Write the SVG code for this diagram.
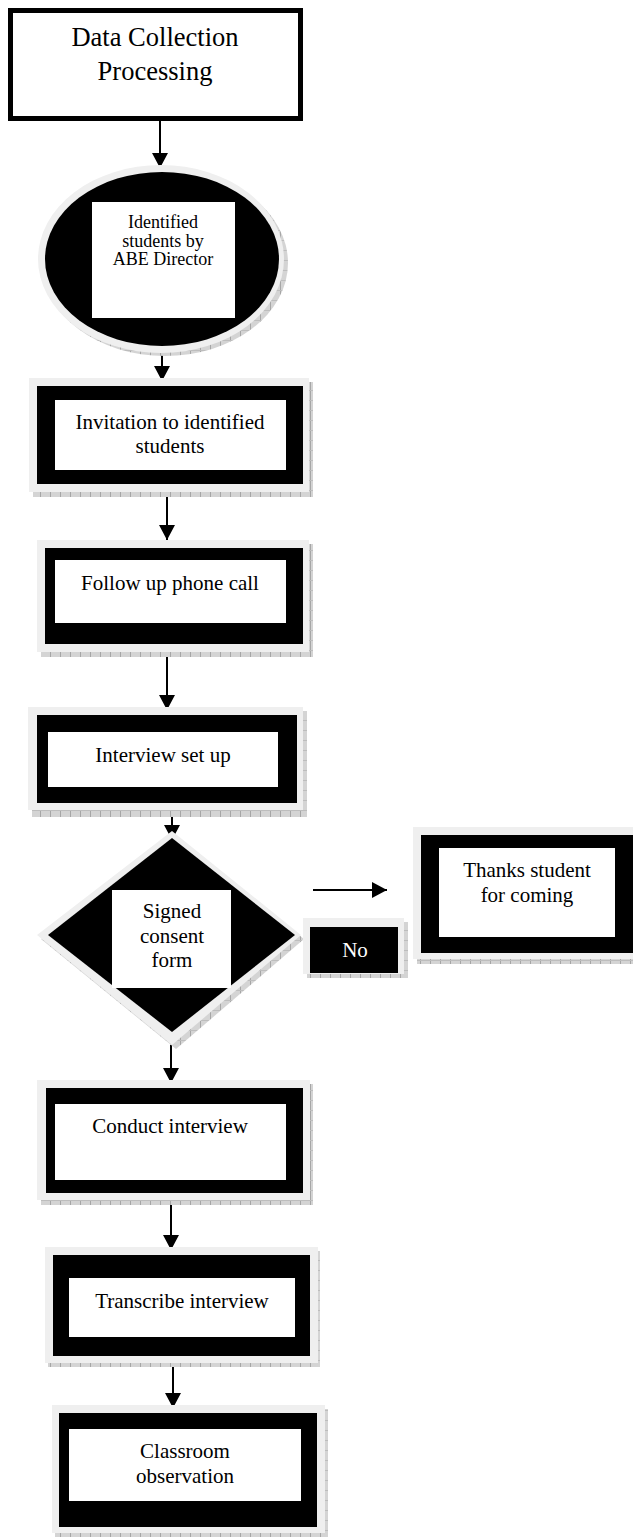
<svg xmlns="http://www.w3.org/2000/svg" width="633" height="1537" viewBox="0 0 633 1537">
<style>
.t{font-family:"Liberation Serif","Times New Roman",serif;font-size:21px;fill:#000;text-anchor:middle}
.ts{font-size:18px}
.tt{font-size:26.5px}
.tw{fill:#fff}
.halo{fill:#efefef}
.blk{fill:#000}
.wht{fill:#fff}
.sh{fill:url(#hatch)}
.con{stroke:#000;stroke-width:2;fill:none;marker-end:url(#ah)}
</style>
<defs>
<pattern id="hatch" patternUnits="userSpaceOnUse" width="10" height="10">
<rect width="10" height="10" fill="#d4d4d4"/>
<line x1="0.5" y1="0" x2="0.5" y2="10" stroke="#a6a6a6" stroke-width="1"/>
<line x1="0" y1="0.5" x2="10" y2="0.5" stroke="#bdbdbd" stroke-width="1"/>
</pattern>
<marker id="ah" markerUnits="userSpaceOnUse" markerWidth="16" markerHeight="16" refX="15" refY="8" orient="auto">
<path d="M0,0 L15,8 L0,16 Z" fill="#000"/>
</marker>
</defs>

<g id="connectors">
<line class="con" x1="160" y1="121" x2="160" y2="168"/>
<line class="con" x1="162" y1="346" x2="162" y2="381"/>
<line class="con" x1="167" y1="484" x2="167" y2="540"/>
<line class="con" x1="167" y1="644" x2="167" y2="710"/>
<line class="con" x1="172" y1="803" x2="172" y2="840"/>
<line class="con" x1="313" y1="890" x2="387" y2="890"/>
<line class="con" x1="171" y1="1045" x2="171" y2="1083"/>
<line class="con" x1="171" y1="1193" x2="171" y2="1250"/>
<line class="con" x1="173" y1="1356" x2="173" y2="1408"/>
</g>

<g id="node-title">
<rect x="10.5" y="10.5" width="290" height="108" fill="#fff" stroke="#000" stroke-width="5"/>
<text class="t tt" x="155" y="46">Data Collection</text>
<text class="t tt" x="155" y="80">Processing</text>
</g>

<g id="node-identified">
<ellipse class="sh" cx="165" cy="263" rx="123" ry="93"/>
<ellipse class="halo" cx="161" cy="259" rx="123" ry="94"/>
<ellipse class="blk" cx="162" cy="259" rx="117" ry="87"/>
<rect class="wht" x="92" y="202" width="143" height="116"/>
<text class="t ts" x="163" y="228">Identified</text>
<text class="t ts" x="163" y="247">students by</text>
<text class="t ts" x="163" y="265">ABE Director</text>
</g>

<g id="node-invitation">
<rect class="sh" x="33" y="382" width="280" height="115"/>
<rect class="halo" x="29" y="378" width="280" height="114"/>
<rect class="blk" x="37" y="386" width="266" height="98"/>
<rect class="wht" x="55" y="400" width="231" height="70"/>
<text class="t" x="170" y="429">Invitation to identified</text>
<text class="t" x="170" y="453">students</text>
</g>

<g id="node-followup">
<rect class="sh" x="41" y="544" width="272" height="113"/>
<rect class="halo" x="37" y="540" width="272" height="112"/>
<rect class="blk" x="45" y="548" width="258" height="96"/>
<rect class="wht" x="55" y="560" width="231" height="63"/>
<text class="t" x="170" y="590">Follow up phone call</text>
</g>

<g id="node-setup">
<rect class="sh" x="32" y="711" width="275" height="106"/>
<rect class="halo" x="28" y="707" width="275" height="103"/>
<rect class="blk" x="37" y="715" width="260" height="88"/>
<rect class="wht" x="48" y="732" width="230" height="55"/>
<text class="t" x="163" y="762">Interview set up</text>
</g>

<g id="node-consent">
<polygon class="sh" points="176,836 304,939 176,1049 41,939"/>
<polygon class="halo" points="172,831 301,935 172,1045 37,935"/>
<polygon class="blk" points="172,838 295,935 172,1032 48,935"/>
<rect class="wht" x="112" y="890" width="119" height="98"/>
<text class="t" x="172" y="918">Signed</text>
<text class="t" x="172" y="943">consent</text>
<text class="t" x="172" y="967">form</text>
</g>

<g id="node-no">
<rect class="sh" x="307" y="922" width="101" height="56"/>
<rect class="halo" x="303" y="918" width="101" height="56"/>
<rect class="blk" x="310" y="927" width="88" height="46"/>
<text class="t tw" x="355" y="957">No</text>
</g>

<g id="node-thanks">
<rect class="sh" x="417" y="831" width="216" height="133"/>
<rect class="halo" x="413" y="827" width="220" height="132"/>
<rect class="blk" x="421" y="835" width="212" height="118"/>
<rect class="wht" x="439" y="848" width="176" height="89"/>
<text class="t" x="527" y="877">Thanks student</text>
<text class="t" x="527" y="902">for coming</text>
</g>

<g id="node-conduct">
<rect class="sh" x="41" y="1084" width="272" height="121"/>
<rect class="halo" x="37" y="1080" width="273" height="120"/>
<rect class="blk" x="46" y="1088" width="257" height="105"/>
<rect class="wht" x="55" y="1104" width="231" height="76"/>
<text class="t" x="170" y="1133">Conduct interview</text>
</g>

<g id="node-transcribe">
<rect class="sh" x="48" y="1251" width="272" height="116"/>
<rect class="halo" x="45" y="1247" width="273" height="116"/>
<rect class="blk" x="53" y="1255" width="257" height="101"/>
<rect class="wht" x="69" y="1278" width="226" height="59"/>
<text class="t" x="182" y="1308">Transcribe interview</text>
</g>

<g id="node-classroom">
<rect class="sh" x="55" y="1409" width="273" height="128"/>
<rect class="halo" x="52" y="1405" width="273" height="128"/>
<rect class="blk" x="59" y="1413" width="258" height="114"/>
<rect class="wht" x="69" y="1429" width="232" height="72"/>
<text class="t" x="185" y="1458">Classroom</text>
<text class="t" x="185" y="1483">observation</text>
</g>
</svg>
